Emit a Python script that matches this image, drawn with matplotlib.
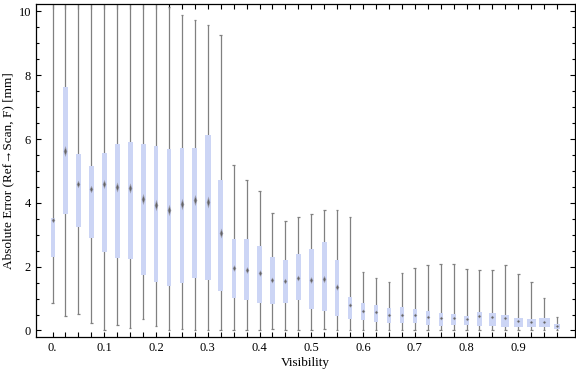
import matplotlib
matplotlib.use("Agg")
import matplotlib.pyplot as plt
from matplotlib.path import Path

# ---- data ----
visibility = [0.0, 0.025, 0.05, 0.075, 0.1, 0.125, 0.15, 0.175, 0.2, 0.225,
              0.25, 0.275, 0.3, 0.325, 0.35, 0.375, 0.4, 0.425, 0.45, 0.475,
              0.5, 0.525, 0.55, 0.575, 0.6, 0.625, 0.65, 0.675, 0.7, 0.725,
              0.75, 0.775, 0.8, 0.825, 0.85, 0.875, 0.9, 0.925, 0.95, 0.975]
err_min = [0.85, 0.45, 0.52, 0.22, 0.0, 0.17, 0.07, 0.35, 0.14, 0.0,
           0.04, 0.0, 0.0, 0.0, 0.0, 0.0, 0.0, 0.04, 0.0, 0.0,
           0.0, 0.04, 0.0, 0.0, 0.0, 0.0, 0.0, 0.0, 0.0, 0.0,
           0.0, 0.0, 0.0, 0.0, 0.0, 0.0, 0.0, 0.0, 0.0, 0.0]
err_q1 = [2.31, 3.66, 3.24, 2.89, 2.47, 2.28, 2.23, 1.74, 1.53, 1.40,
          1.48, 1.65, 1.59, 1.24, 1.03, 0.96, 0.87, 0.82, 0.87, 0.97,
          0.66, 0.60, 0.46, 0.37, 0.34, 0.28, 0.24, 0.24, 0.24, 0.18,
          0.15, 0.18, 0.17, 0.14, 0.14, 0.12, 0.12, 0.12, 0.12, 0.06]
err_median = [3.47, 5.62, 4.58, 4.42, 4.58, 4.50, 4.47, 4.11, 3.92, 3.79,
              3.95, 4.08, 4.04, 3.07, 1.97, 1.91, 1.79, 1.59, 1.55, 1.64,
              1.57, 1.60, 1.37, 0.80, 0.62, 0.57, 0.47, 0.48, 0.48, 0.41,
              0.40, 0.39, 0.36, 0.44, 0.41, 0.38, 0.30, 0.26, 0.26, 0.13]
err_q3 = [3.53, 7.64, 5.52, 5.14, 5.57, 5.85, 5.92, 5.85, 5.79, 5.70,
          5.73, 5.73, 6.14, 4.73, 2.86, 2.86, 2.64, 2.30, 2.20, 2.39,
          2.55, 2.77, 2.22, 1.05, 0.86, 0.80, 0.70, 0.73, 0.67, 0.61,
          0.55, 0.52, 0.45, 0.58, 0.55, 0.48, 0.39, 0.36, 0.39, 0.20]
err_max = [10.6, 10.6, 10.6, 10.6, 10.6, 10.6, 10.6, 10.6, 10.28, 10.14,
           9.88, 9.72, 9.57, 9.27, 5.19, 4.72, 4.38, 3.68, 3.44, 3.57,
           3.66, 3.77, 3.77, 3.57, 1.82, 1.66, 1.51, 1.79, 1.97, 2.04,
           2.07, 2.07, 1.93, 1.91, 1.91, 2.04, 1.76, 1.51, 1.01, 0.41]
x_tick_labels = ["0.", "0.1", "0.2", "0.3", "0.4", "0.5", "0.6", "0.7", "0.8", "0.9"]
y_tick_labels = ["0", "2", "4", "6", "8", "10"]

# box widths in pixels (style)
box_w_px = [4, 5, 5, 5, 5, 5, 5, 5, 4.3, 4.3,
            4.3, 5, 6, 5.3, 4.3, 4.3, 4.3, 5, 5, 5,
            5, 5, 4.3, 4.3, 4, 4, 4, 4, 4, 4,
            4, 5, 4.7, 5, 6.7, 8.3, 9, 9, 11, 6]

plt.rcParams['font.family'] = ['Liberation Serif', 'DejaVu Serif']

W, H = 576, 377
fig = plt.figure(figsize=(W / 100, H / 100), dpi=100)
left, right, bottom, top = 36, 575, 337, 4
ax = fig.add_axes([left / W, 1 - bottom / H, (right - left) / W, (bottom - top) / H])

xmin, xmax = -0.032, 1.0096
ymin, ymax = -0.204, 10.23
ax.set_xlim(xmin, xmax)
ax.set_ylim(ymin, ymax)
px_x = (xmax - xmin) / (right - left)   # data units per pixel (x)

whisk_col = '#808080'
box_col = '#ccd5f5'
lw = 0.9

# whiskers
ax.vlines(visibility, err_min, err_max, color=whisk_col, lw=lw, zorder=2)
cap_hw = 1.3 * px_x
ax.hlines(err_min, [v - cap_hw for v in visibility], [v + cap_hw for v in visibility],
          color=whisk_col, lw=lw, zorder=2)
ax.hlines(err_max, [v - cap_hw for v in visibility], [v + cap_hw for v in visibility],
          color=whisk_col, lw=lw, zorder=2)

# boxes
widths = [w * px_x for w in box_w_px]
ax.bar(visibility, [b - a for a, b in zip(err_q1, err_q3)], bottom=err_q1,
       width=widths, color=box_col, edgecolor='none', zorder=3)

# medians (blurred diamond)
for v, q1, q3, m in zip(visibility, err_q1, err_q3, err_median):
    iqr = q3 - q1
    h = 3.0 + 2.0 * iqr
    w = 3.6
    mm = max(h, w)
    verts = [(0, h / mm), (w / mm, 0), (0, -h / mm), (-w / mm, 0), (0, h / mm)]
    mk = Path(verts, [Path.MOVETO, Path.LINETO, Path.LINETO, Path.LINETO, Path.CLOSEPOLY])
    ax.plot([v], [m], marker=mk, markersize=mm * 0.72, color='#9a9aa6',
            markeredgewidth=0, alpha=0.9, zorder=4)
    ax.plot([v], [m], marker=mk, markersize=mm * 0.72 * 0.6, color='#5e5e5e',
            markeredgewidth=0, alpha=0.9, zorder=5)

# ticks
ax.set_xticks(visibility)
labels = []
for i, v in enumerate(visibility):
    labels.append(x_tick_labels[i // 4] if i % 4 == 0 else "")
ax.set_xticklabels(labels)
ax.set_yticks([0, 2, 4, 6, 8, 10])
ax.set_yticklabels(y_tick_labels)
ax.set_yticks([k * 0.5 for k in range(21) if k % 4 != 0], minor=True)
ax.tick_params(axis='both', which='major', direction='in', length=3.4, width=0.8,
               top=True, right=True, labelsize=9, colors='black', pad=3.5)
ax.tick_params(axis='y', which='minor', direction='in', length=2.0, width=0.8,
               left=True, right=True)
for s in ax.spines.values():
    s.set_linewidth(0.9)
    s.set_color('black')

ax.set_xlabel('Visibility', fontsize=9.5, labelpad=2)
ax.set_ylabel('Absolute Error (Ref\u2192Scan, F) [mm]', fontsize=9.5, labelpad=3)

fig.savefig('out.png', dpi=100)
